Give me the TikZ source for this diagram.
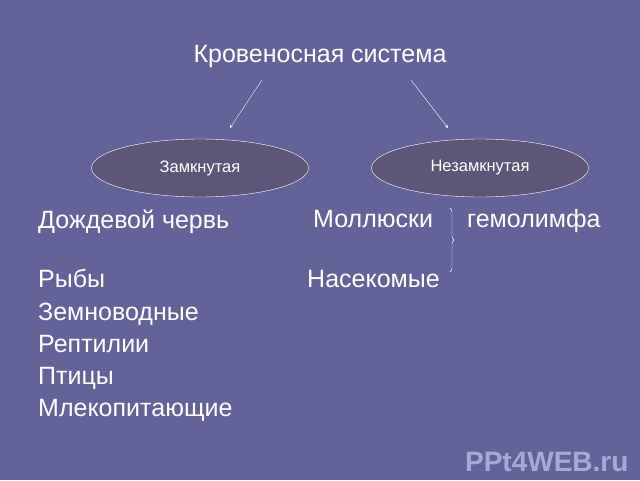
\documentclass[tikz,border=0pt]{standalone}
\usepackage{fontspec}
\setmainfont{Liberation Sans}
\usetikzlibrary{arrows, positioning, shapes.geometric, decorations.pathreplacing}
\definecolor{slide}{HTML}{63639A}
\definecolor{oval}{HTML}{5E5679}
\definecolor{mark}{HTML}{A8A8D4}
\newcommand{\bigsize}{\fontsize{25}{30}\selectfont}
\newcommand{\smallsize}{\fontsize{16.5}{20}\selectfont}
\tikzstyle{title} = [% heading of the slide
  anchor=base,
  inner sep=0pt,
  text=white,
  font=\bigsize
  ]
\tikzstyle{kind} = [% type of the system
  ellipse,
  minimum width=217pt,
  minimum height=58pt,
  draw=white,
  fill=oval,
  text=white,
  font=\smallsize
  ]
\tikzstyle{item} = [% animals in the list
  anchor=base west,
  inner sep=0pt,
  text=white,
  font=\bigsize
  ]
\tikzstyle{arrow} = [% arrow format
  draw=white,
  ->,
  >=stealth
  ]

\begin{document}
\begin{tikzpicture}[x=1pt, y=-1pt]

\fill[slide] (0,0) rectangle (640,480);
\useasboundingbox (0,0) rectangle (640,480);

%%% Nodes
\node[title] (system) at (320,62) {Кровеносная система};
\node[kind] (closed) at (200,168) {Замкнутая};
\node[kind] (open) at (480,168) {Незамкнутая};
\coordinate (sysleft) at (262,80);
\coordinate (sysright) at (411,80);
\coordinate (toclosed) at (230,128);
\coordinate (toopen) at (448,128);

\node[item] (worm) at (38,228) {Дождевой червь};
\node[item] (fish) at (38,287) {Рыбы};
\node[item] (amphib) at (38,320) {Земноводные};
\node[item] (reptile) at (38,352) {Рептилии};
\node[item] (bird) at (38,384) {Птицы};
\node[item] (mammal) at (38,416) {Млекопитающие};

\node[item] (mollusc) at (313,227) {Моллюски};
\node[item] (insect) at (307,287) {Насекомые};
\node[item] (lymph) at (467,227) {гемолимфа};
\coordinate (bracetop) at (450,208);
\coordinate (bracebot) at (450,272);

\node[anchor=east, text=mark, font=\fontsize{28}{32}\selectfont\bfseries] (site) at (632,462) {PPt4WEB.ru};

%%%
\draw[arrow] (sysleft) -- (toclosed);
\draw[arrow] (sysright) -- (toopen);
\draw[white, decorate, decoration={brace, amplitude=4pt}] (bracetop) -- (bracebot);

\end{tikzpicture}
\end{document}
